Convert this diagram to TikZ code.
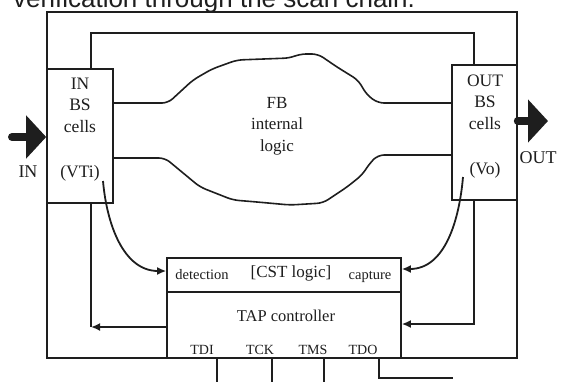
\documentclass[tikz,border=0pt]{standalone}
\usepackage{fontspec}
\setmainfont{Liberation Serif}
\newfontfamily\capfont{Liberation Sans}
\usetikzlibrary{arrows.meta, positioning, calc}
\definecolor{ink}{RGB}{30,30,30}

\begin{document}
\begin{tikzpicture}[
  x=1pt, y=-1pt,
  wire/.style={draw=ink, line width=1.6pt},
  bold/.style={draw=ink, line width=2.4pt},
  cell/.style={draw=ink, line width=1.6pt, fill=white, inner sep=0pt},
  arr/.style={-{Latex[length=9pt,width=8pt]}, draw=ink, line width=1.8pt},
  bigarr/.style={-{Triangle[length=20pt,width=42pt]}, draw=ink, line width=8pt, line cap=round},
  lbl/.style={font=\fontsize{17.5}{21.5}\selectfont, text=ink, align=center, inner sep=0pt, anchor=base},
  small/.style={font=\fontsize{14.5}{16}\selectfont, text=ink, inner sep=0pt, anchor=base},
]
\useasboundingbox (0,0) rectangle (562,381);
% Caption line cut at the top
\node[font=\capfont\fontsize{26}{30}\selectfont, text=ink, inner sep=0pt, anchor=base west] (caption) at (13,7) {verification through the scan chain.};

% Chip boundary
\draw[wire] (47,12) rectangle (517,358);

% Boundary scan cells and TAP
\node[cell, minimum width=66pt, minimum height=134pt] (inbs) at (80,136) {};
\node[cell, minimum width=65pt, minimum height=135pt] (outbs) at (484.5,132.5) {};
\node[cell, minimum width=234pt, minimum height=100pt] (tap) at (284,308) {};
\draw[wire] (tap.west |- 0,292) -- (tap.east |- 0,292);

% Scan chain loop over the logic
\draw[bold] (inbs.north -| 91,0) -- (91,33) -- (474,33) -- (outbs.north -| 474,0);

% FB internal logic outline
\draw[wire, rounded corners=6pt] (inbs.east |- 0,103) -- (168,103) -- (193,80) -- (212,69) -- (237,60) -- (290,58) -- (300,54) -- (318,54) -- (337,67) -- (358,80) -- (367,95) -- (378,103) -- (outbs.west |- 0,103);
\draw[wire, rounded corners=6pt] (inbs.east |- 0,158) -- (165,158) -- (200,187) -- (233,200) -- (257,202) -- (290,205) -- (323,203) -- (347,187) -- (362,175) -- (370,163) -- (378,155) -- (outbs.west |- 0,155);

% Labels
\node[lbl] (inlbl) at (80,132) {IN\\BS\\cells};
\node[lbl] (vti) at (80,177) {(VTi)};
\node[lbl] (outlbl) at (485,129) {OUT\\BS\\cells};
\node[lbl] (vo) at (485,174) {(Vo)};
\node[lbl, font=\fontsize{17}{21.5}\selectfont] (fb) at (277,151) {FB\\internal\\logic};
\node[lbl, font=\fontsize{18}{20}\selectfont] (inname) at (28,177) {IN};
\node[lbl, font=\fontsize{18}{20}\selectfont] (outname) at (538,163) {OUT};
\node[small] (det) at (202,279) {detection};
\node[small] (cap) at (370,279) {capture};
\node[lbl, font=\fontsize{17}{20}\selectfont] (cst) at (291,277) {[CST logic]};
\node[lbl, font=\fontsize{16.5}{20}\selectfont] (tapname) at (286,321) {TAP controller};
\node[small, font=\fontsize{14}{16}\selectfont] (tdi) at (202,354) {TDI};
\node[small, font=\fontsize{14}{16}\selectfont] (tck) at (260,354) {TCK};
\node[small, font=\fontsize{14}{16}\selectfont] (tms) at (313,354) {TMS};
\node[small, font=\fontsize{14}{16}\selectfont] (tdo) at (363,354) {TDO};

% Primary input and output
\draw[bigarr] (12,137) -- (inbs.west |- 0,137);
\coordinate (outtip) at (548,121);
\draw[bigarr] (outbs.east |- outtip) -- (outtip);

% Detection and capture
\draw[arr] (103,181) to[out=-85, in=180] (tap.west |- 0,271);
\draw[arr] (463,177) to[out=-95, in=0] (tap.east |- 0,269);

% Returns from the TAP
\coordinate (lret) at (91,327);
\draw[bold] (inbs.south -| lret) -- (lret);
\draw[arr, line width=2.4pt] (tap.west |- lret) -- (lret);
\draw[arr, line width=2.4pt] (outbs.south -| 474,0) |- (tap.east |- 0,324);

% Test access pins
\foreach \x in {217,272,324}
  \draw[wire] (tap.south -| \x,0) -- (\x,385);
\draw[wire] (tap.south -| 379,0) |- (453,378);
\end{tikzpicture}
\end{document}
